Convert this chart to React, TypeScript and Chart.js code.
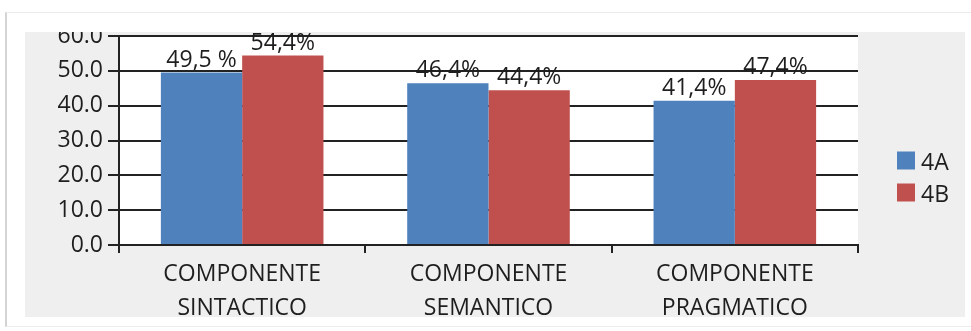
import React, { useEffect, useRef } from "react";
import { Chart, registerables } from "chart.js";

Chart.register(...registerables);

const categories: string[][] = [
  ["COMPONENTE", "SINTACTICO"],
  ["COMPONENTE", "SEMANTICO"],
  ["COMPONENTE", "PRAGMATICO"],
];
const seriesNames = ["4A", "4B"];
const values4A = [49.5, 46.4, 41.4];
const values4B = [54.4, 44.4, 47.4];
const labels4A = ["49,5 %", "46,4%", "41,4%"];
const labels4B = ["54,4%", "44,4%", "47,4%"];
const yMin = 0;
const yMax = 60;
const yStep = 10;

const colors = ["#4F81BD", "#C0504D"];
const FONT = "'Open Sans', sans-serif";
const TEXT = "#1e1e1e";
const LINE = "#222222";

export default function App() {
  const ref = useRef<HTMLCanvasElement | null>(null);

  useEffect(() => {
    if (!ref.current) return;
    const dataLabels = [labels4A, labels4B];

    const plotBg = {
      id: "plotBg",
      beforeDraw(chart: any) {
        const { ctx, chartArea } = chart;
        ctx.save();
        ctx.fillStyle = "#ffffff";
        ctx.fillRect(chartArea.left, chartArea.top, chartArea.right - chartArea.left, chartArea.bottom - chartArea.top);
        ctx.restore();
      },
    };

    const valueLabels = {
      id: "valueLabels",
      afterDatasetsDraw(chart: any) {
        const { ctx } = chart;
        ctx.save();
        ctx.font = `23px ${FONT}`;
        ctx.fillStyle = TEXT;
        ctx.textAlign = "center";
        ctx.textBaseline = "alphabetic";
        chart.data.datasets.forEach((ds: any, di: number) => {
          const meta = chart.getDatasetMeta(di);
          meta.data.forEach((el: any, i: number) => {
            ctx.fillText(dataLabels[di][i], el.x, el.y - 6);
          });
        });
        ctx.restore();
      },
    };

    const sideLegend = {
      id: "sideLegend",
      afterDraw(chart: any) {
        const { ctx, chartArea, height } = chart;
        const box = 18;
        const gap = 32;
        const n = chart.data.datasets.length;
        const totalH = box + gap * (n - 1);
        const x0 = chartArea.right + 39;
        const y0 = height / 2 + 2 - totalH / 2;
        ctx.save();
        ctx.font = `23px ${FONT}`;
        ctx.textBaseline = "alphabetic";
        ctx.textAlign = "left";
        chart.data.datasets.forEach((ds: any, i: number) => {
          const y = y0 + i * gap;
          ctx.fillStyle = ds.backgroundColor;
          ctx.fillRect(x0, y, box, box);
          ctx.fillStyle = TEXT;
          ctx.fillText(ds.label, x0 + box + 6, y + box);
        });
        ctx.restore();
      },
    };

    const chart = new Chart(ref.current, {
      type: "bar",
      data: {
        labels: categories,
        datasets: [
          { label: seriesNames[0], data: values4A, backgroundColor: colors[0] },
          { label: seriesNames[1], data: values4B, backgroundColor: colors[1] },
        ],
      },
      options: {
        animation: false,
        responsive: false,
        devicePixelRatio: 1,
        layout: { padding: { top: 4, right: 107, left: 0, bottom: 0 } },
        datasets: { bar: { categoryPercentage: 0.66, barPercentage: 1 } },
        plugins: { legend: { display: false }, tooltip: { enabled: false } },
        scales: {
          x: {
            grid: { offset: true, drawOnChartArea: false, drawTicks: true, tickLength: 8, color: LINE, lineWidth: 2 },
            border: { display: true, color: LINE, width: 2 },
            ticks: { font: { family: FONT, size: 23, lineHeight: 1.5 }, color: TEXT, padding: 4, maxRotation: 0, autoSkip: false },
            afterFit: (s: any) => {
              s.height = 72;
              s.paddingLeft = 0;
              s.paddingRight = 0;
            },
          },
          y: {
            min: yMin,
            max: yMax,
            ticks: {
              stepSize: yStep,
              callback: (v: any) => Number(v).toFixed(1),
              font: { family: FONT, size: 23 },
              color: TEXT,
              padding: 5,
            },
            grid: { color: LINE, lineWidth: 2, tickLength: 11, drawTicks: true },
            border: { display: true, color: LINE, width: 2 },
            afterFit: (s: any) => {
              s.width = 94;
              s.paddingTop = 0;
              s.paddingBottom = 0;
            },
          },
        },
      } as any,
      plugins: [plotBg, valueLabels, sideLegend],
    });
    return () => chart.destroy();
  }, []);

  return (
    <div style={{ position: "absolute", left: 0, top: 0, width: 971, height: 331, background: "#fff", overflow: "hidden" }}>
      <div
        style={{
          position: "absolute",
          left: 5,
          top: 12,
          width: 1000,
          height: 315,
          borderLeft: "2px solid #d4d4d4",
          borderTop: "1px solid #ececec",
          borderBottom: "1px solid #ececec",
          boxSizing: "border-box",
        }}
      />
      <div style={{ position: "absolute", left: 25, top: 32, width: 940, height: 285, background: "#efefef" }}>
        <canvas ref={ref} width={940} height={285} style={{ width: 940, height: 285, display: "block" }} />
      </div>
    </div>
  );
}
